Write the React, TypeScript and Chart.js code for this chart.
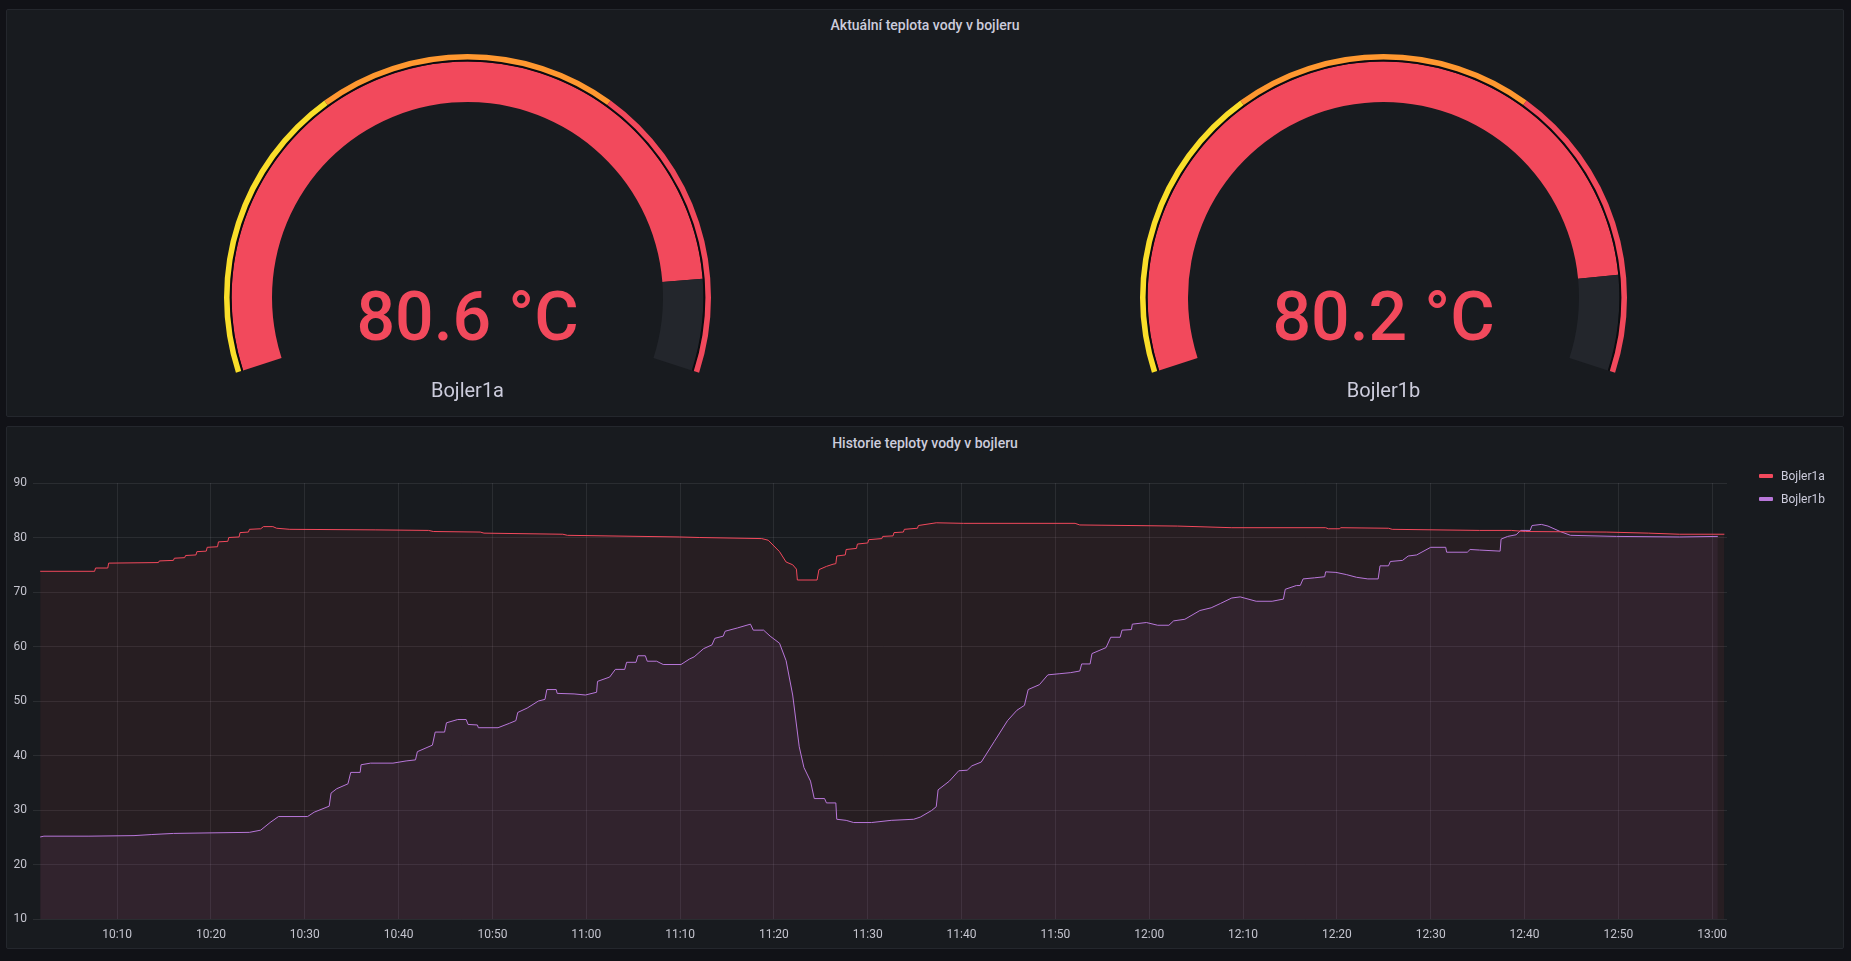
import React, { useEffect, useRef } from 'react';
import { Chart, registerables } from 'chart.js';

Chart.register(...registerables);

// ---------- Gauge panel data ----------
const gaugeTitle = 'Aktuální teplota vody v bojleru';
const gaugeNames = ['Bojler1a', 'Bojler1b'];
const gaugeValues = [80.6, 80.2];
const gaugeUnit = '°C';
const gaugeMin = 0;
const gaugeMax = 90;
const thresholdSteps = [0, 30, 60];
const thresholdColors = ['#FADE2A', '#FF9830', '#F2495C'];

// ---------- Time series data (minutes after 10:00) ----------
const historyTitle = 'Historie teploty vody v bojleru';
const seriesNames = ['Bojler1a', 'Bojler1b'];
const seriesColors = ['#F2495C', '#B877D9'];
const timeRange = [1.78, 181.58];

const bojler1aMinutes = [
  1.8, 7.6, 7.7, 9.0, 9.1, 14.4, 14.5, 16.0, 16.1, 17.2, 17.3, 18.4, 18.5, 19.5, 19.6, 20.7, 20.8, 21.8, 21.9, 23.0,
  23.1, 24.0, 24.1, 25.3, 25.6, 26.6, 27.0, 28.4, 37.5, 43.2, 43.7, 48.7, 49.1, 57.5, 58.0, 69.9, 72.1, 78.7, 79.4, 80.6,
  81.3, 82.0, 82.4, 82.5, 84.6, 84.8, 85.6, 86.3, 86.6, 86.7, 87.6, 87.7, 88.8, 88.9, 90.0, 90.1, 91.5, 91.6, 92.7, 92.8,
  93.8, 93.9, 95.3, 95.4, 97.3, 100.2, 112.1, 112.6, 123.0, 128.8, 138.8, 139.1, 140.3, 140.4, 145.5, 145.9, 155.2, 158.6, 160.1, 168.7,
  173.2, 176.5, 181.3,
];
const bojler1aValues = [
  73.8, 73.8, 74.4, 74.4, 75.3, 75.4, 75.7, 75.8, 76.2, 76.3, 76.7, 76.8, 77.4, 77.5, 78.2, 78.3, 79.2, 79.3, 80.0, 80.1,
  80.9, 81.0, 81.5, 81.6, 82.0, 82.0, 81.7, 81.5, 81.4, 81.3, 81.1, 81.0, 80.8, 80.6, 80.4, 80.1, 80.0, 79.8, 79.5, 77.4,
  75.5, 75.0, 74.2, 72.2, 72.2, 74.1, 74.7, 75.1, 75.2, 76.6, 76.8, 77.8, 78.0, 78.8, 79.0, 79.6, 79.8, 80.2, 80.3, 80.9,
  81.0, 81.5, 81.7, 82.2, 82.7, 82.6, 82.6, 82.3, 82.1, 81.8, 81.8, 81.6, 81.6, 81.8, 81.7, 81.5, 81.3, 81.3, 81.1, 81.0,
  80.8, 80.6, 80.6,
];

const bojler1bMinutes = [
  1.8, 2.2, 7.0, 11.8, 13.7, 16.0, 19.9, 24.1, 25.3, 26.3, 27.2, 30.3, 31.0, 32.6, 32.8, 33.4, 34.6, 34.9, 35.9, 36.0,
  37.0, 39.4, 40.8, 41.8, 42.0, 43.6, 43.9, 44.9, 45.1, 46.3, 47.2, 47.4, 48.4, 48.5, 50.6, 51.8, 52.5, 52.7, 53.7, 54.9,
  55.6, 55.8, 56.8, 56.9, 58.7, 59.9, 61.1, 61.2, 62.5, 63.1, 64.1, 64.3, 65.3, 65.5, 66.3, 66.5, 67.5, 68.2, 70.1, 71.0,
  71.5, 72.5, 73.4, 73.7, 74.6, 74.8, 76.1, 77.5, 77.8, 78.9, 79.6, 80.6, 81.3, 82.0, 82.7, 83.2, 83.9, 84.3, 85.4, 85.6,
  86.6, 86.7, 87.7, 88.5, 90.4, 92.5, 94.9, 95.6, 96.8, 97.3, 97.5, 98.7, 99.7, 100.6, 101.1, 102.1, 103.5, 104.9, 105.9, 106.7,
  107.1, 108.3, 109.2, 110.4, 111.6, 112.6, 112.8, 113.7, 113.9, 115.4, 115.9, 116.9, 117.1, 118.1, 118.2, 119.7, 120.9, 122.1, 122.6, 123.8,
  125.4, 126.6, 127.6, 128.8, 129.7, 131.4, 133.1, 134.3, 134.5, 135.7, 136.1, 136.4, 137.6, 138.7, 138.8, 139.9, 141.0, 142.1, 143.3, 144.4,
  144.6, 145.5, 145.7, 147.0, 147.6, 148.5, 150.0, 151.6, 151.7, 153.9, 154.2, 155.2, 157.4, 157.5, 158.2, 159.1, 159.6, 160.6, 160.8, 161.8,
  162.5, 163.8, 164.9, 169.8, 176.5, 180.6,
];
const bojler1bValues = [
  25.05, 25.2, 25.2, 25.3, 25.5, 25.7, 25.8, 25.9, 26.3, 27.7, 28.8, 28.8, 29.6, 30.7, 33.1, 33.9, 34.8, 36.9, 36.9, 38.3,
  38.6, 38.6, 39.0, 39.2, 40.7, 41.9, 44.3, 44.3, 46.0, 46.6, 46.6, 45.7, 45.6, 45.1, 45.1, 45.9, 46.4, 47.9, 48.7, 50.0,
  50.3, 52.1, 52.1, 51.4, 51.3, 51.1, 51.6, 53.6, 54.4, 55.8, 55.8, 57.1, 57.1, 58.3, 58.3, 57.3, 57.3, 56.7, 56.7, 57.7,
  58.1, 59.6, 60.3, 61.5, 61.9, 62.8, 63.4, 64.1, 63.0, 63.0, 61.9, 60.6, 57.4, 51.1, 41.6, 37.8, 35.3, 32.1, 32.1, 31.3,
  31.3, 28.3, 28.1, 27.7, 27.7, 28.1, 28.3, 28.7, 29.9, 30.6, 33.7, 35.3, 37.2, 37.3, 38.1, 38.8, 42.6, 46.4, 48.3, 49.2,
  52.1, 53.0, 54.8, 55.0, 55.2, 55.5, 56.8, 56.8, 58.7, 59.8, 61.7, 61.7, 63.0, 63.1, 64.1, 64.4, 63.9, 63.9, 64.7, 65.0,
  66.6, 67.1, 67.9, 68.9, 69.1, 68.3, 68.3, 68.7, 70.5, 71.2, 71.2, 72.4, 72.6, 72.8, 73.7, 73.6, 73.2, 72.7, 72.4, 72.4,
  74.8, 74.8, 75.6, 75.8, 76.6, 76.8, 78.2, 78.2, 77.3, 77.3, 77.8, 77.7, 77.5, 79.7, 80.2, 80.5, 81.3, 81.3, 82.2, 82.4,
  82.1, 81.1, 80.4, 80.2, 80.1, 80.2,
];

const xTickLabels = [
  '10:10', '10:20', '10:30', '10:40', '10:50', '11:00', '11:10', '11:20', '11:30', '11:40',
  '11:50', '12:00', '12:10', '12:20', '12:30', '12:40', '12:50', '13:00',
];
const yTickValues = [10, 20, 30, 40, 50, 60, 70, 80, 90];

// ---------- Styling constants ----------
const PAGE_BG = '#111217';
const PANEL_BG = '#181b1f';
const PANEL_BORDER = '#24272d';
const TEXT = '#ccccdc';
const AXIS_TEXT = '#c4c4ce';
const GRID = 'rgba(204,204,220,0.10)';
const GAUGE_SWEEP = 216;
const GAUGE_R = 243.5;
const GAUGE_INNER_R = 195.5;
const GAUGE_CENTERS = [467.5, 1383.5];
const GAUGE_CY = 297.5;

Chart.defaults.font.family = 'Roboto, sans-serif';

function tickLabelToMinutes(label: string): number {
  const [h, m] = label.split(':').map(Number);
  return (h - 10) * 60 + m;
}

function hexToRgba(hex: string, a: number): string {
  const n = parseInt(hex.slice(1), 16);
  return `rgba(${(n >> 16) & 255},${(n >> 8) & 255},${n & 255},${a})`;
}

function Gauge({ value, name, cx }: { value: number; name: string; cx: number }) {
  const ref = useRef<HTMLCanvasElement | null>(null);
  const valueColor = thresholdColors[thresholdSteps.filter((s) => value >= s).length - 1];
  useEffect(() => {
    if (!ref.current) return;
    const span = gaugeMax - gaugeMin;
    const gap = (span * (360 - GAUGE_SWEEP)) / GAUGE_SWEEP;
    const bands = thresholdSteps.map((s, i) =>
      (i + 1 < thresholdSteps.length ? thresholdSteps[i + 1] : gaugeMax) - s
    );
    const common = { borderWidth: 0, hoverBorderWidth: 0, hoverOffset: 0, offset: 0, spacing: 0 };
    const chart = new Chart(ref.current, {
      type: 'doughnut',
      data: {
        datasets: [
          { data: [...bands, gap], backgroundColor: [...thresholdColors, 'rgba(0,0,0,0)'], weight: 5.5, ...common } as any,
          { data: [span, gap], backgroundColor: ['#0b0c0f', 'rgba(0,0,0,0)'], weight: 2, ...common } as any,
          {
            data: [value - gaugeMin, gaugeMax - value, gap],
            backgroundColor: [valueColor, '#23262c', 'rgba(0,0,0,0)'],
            weight: 40,
            ...common,
          } as any,
        ],
      },
      options: {
        responsive: false,
        animation: false,
        events: [],
        rotation: -GAUGE_SWEEP / 2,
        circumference: 360,
        cutout: GAUGE_INNER_R,
        layout: { padding: 0 },
        plugins: { legend: { display: false }, tooltip: { enabled: false } },
      } as any,
    });
    return () => chart.destroy();
  }, [value]);

  const size = GAUGE_R * 2;
  return (
    <>
      <canvas
        ref={ref}
        width={size}
        height={size}
        style={{ position: 'absolute', left: cx - GAUGE_R, top: GAUGE_CY - GAUGE_R, width: size, height: size }}
      />
      <div
        style={{
          position: 'absolute',
          left: cx - 200,
          width: 400,
          top: 283,
          textAlign: 'center',
          fontSize: 68,
          lineHeight: '68px',
          color: valueColor,
          fontWeight: 500,
          whiteSpace: 'nowrap',
        }}
      >
        {`${value.toFixed(1)} ${gaugeUnit}`}
      </div>
      <div
        style={{
          position: 'absolute',
          left: cx - 150,
          width: 300,
          top: 380,
          textAlign: 'center',
          fontSize: 20,
          lineHeight: '20px',
          color: TEXT,
        }}
      >
        {name}
      </div>
    </>
  );
}

function History() {
  const ref = useRef<HTMLCanvasElement | null>(null);
  useEffect(() => {
    if (!ref.current) return;
    const seriesMinutes = [bojler1aMinutes, bojler1bMinutes];
    const seriesValues = [bojler1aValues, bojler1bValues];
    const xTickMinutes = xTickLabels.map(tickLabelToMinutes);
    const chart = new Chart(ref.current, {
      type: 'line',
      data: {
        datasets: seriesNames.map((name, i) => ({
          label: name,
          data: seriesMinutes[i].map((t, j) => ({ x: t, y: seriesValues[i][j] })),
          borderColor: seriesColors[i],
          backgroundColor: hexToRgba(seriesColors[i], 0.07),
          borderWidth: 1,
          pointRadius: 0,
          pointHoverRadius: 0,
          tension: 0,
          fill: 'start',
        })),
      },
      options: {
        responsive: false,
        animation: false,
        events: [],
        layout: { padding: { top: 56, right: 116, bottom: 0, left: 0 } },
        plugins: {
          legend: { display: false },
          tooltip: { enabled: false },
          filler: { drawTime: 'beforeDatasetsDraw' },
        },
        scales: {
          x: {
            type: 'linear',
            min: timeRange[0],
            max: timeRange[1],
            afterBuildTicks: (axis: any) => {
              axis.ticks = xTickMinutes.map((v) => ({ value: v }));
            },
            afterFit: (s: any) => {
              s.height = 29;
            },
            ticks: {
              autoSkip: false,
              maxRotation: 0,
              minRotation: 0,
              color: AXIS_TEXT,
              font: { size: 12 },
              padding: 9,
              callback: (_v: any, i: number) => xTickLabels[i],
            },
            grid: { color: GRID, drawTicks: false },
            border: { display: false },
          },
          y: {
            type: 'linear',
            min: yTickValues[0],
            max: yTickValues[yTickValues.length - 1],
            afterBuildTicks: (axis: any) => {
              axis.ticks = yTickValues.map((v) => ({ value: v }));
            },
            afterFit: (s: any) => {
              s.width = 33;
            },
            ticks: { color: AXIS_TEXT, font: { size: 12 }, padding: 6 },
            grid: { color: GRID, tickLength: 7 },
            border: { display: false },
          },
        },
      } as any,
    });
    return () => chart.destroy();
  }, []);

  return (
    <canvas
      ref={ref}
      width={1836}
      height={521}
      style={{ position: 'absolute', left: 7, top: 427, width: 1836, height: 521 }}
    />
  );
}

export default function App() {
  const panel = (top: number, height: number): React.CSSProperties => ({
    position: 'absolute',
    left: 6,
    top,
    width: 1838,
    height,
    boxSizing: 'border-box',
    background: PANEL_BG,
    border: `1px solid ${PANEL_BORDER}`,
    borderRadius: 2,
  });
  const title = (top: number): React.CSSProperties => ({
    position: 'absolute',
    left: 6,
    width: 1838,
    top,
    textAlign: 'center',
    fontSize: 14,
    lineHeight: '14px',
    fontWeight: 500,
    color: TEXT,
  });
  return (
    <div
      style={{
        position: 'fixed',
        inset: 0,
        background: PAGE_BG,
        fontFamily: 'Roboto, sans-serif',
        overflow: 'hidden',
      }}
    >
      <div style={panel(9, 408)} />
      <div style={panel(426, 523)} />
      <div style={title(18)}>{gaugeTitle}</div>
      <div style={title(436)}>{historyTitle}</div>
      {gaugeNames.map((n, i) => (
        <Gauge key={n} name={n} value={gaugeValues[i]} cx={GAUGE_CENTERS[i]} />
      ))}
      <History />
      {seriesNames.map((n, i) => (
        <div
          key={n}
          style={{
            position: 'absolute',
            left: 1759,
            top: 469 + i * 22.7,
            height: 14,
            display: 'flex',
            alignItems: 'center',
            fontSize: 12,
            color: TEXT,
            whiteSpace: 'nowrap',
          }}
        >
          <span style={{ display: 'inline-block', width: 14, height: 4, borderRadius: 1, background: seriesColors[i], marginRight: 8 }} />
          {n}
        </div>
      ))}
    </div>
  );
}
